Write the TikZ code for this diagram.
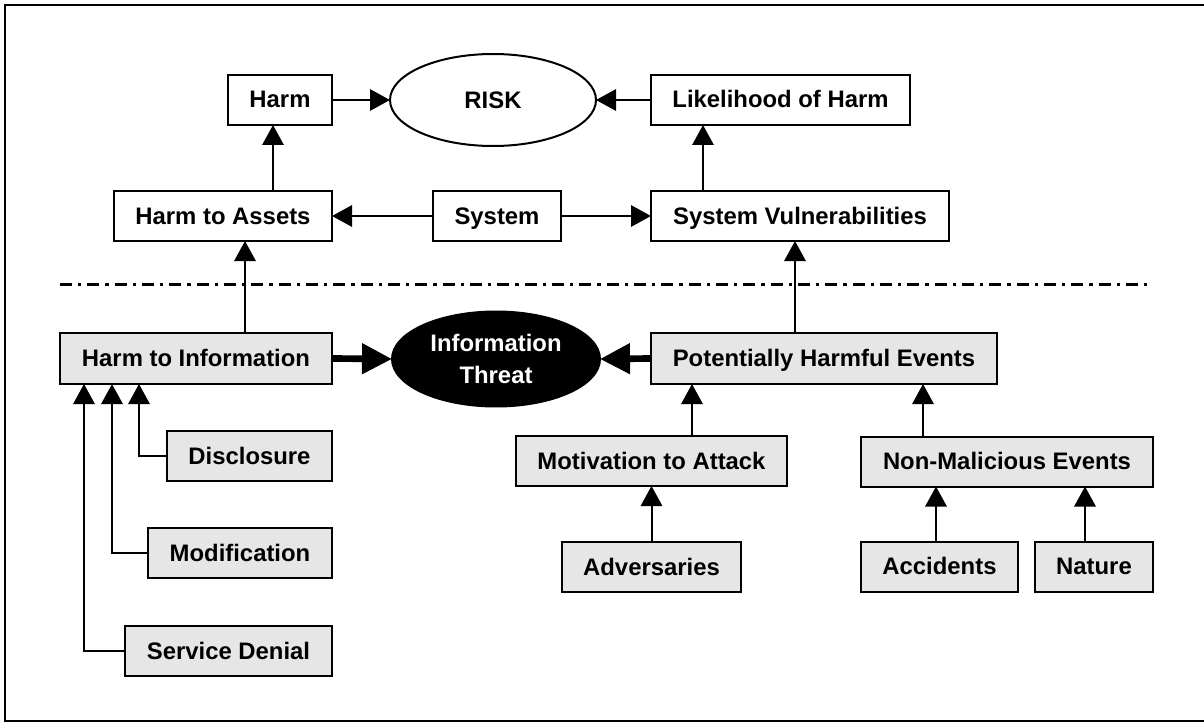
\documentclass[tikz,border=0pt]{standalone}
\usepackage{fontspec}
\setmainfont{Liberation Sans}
\usetikzlibrary{arrows.meta,calc,shapes.geometric}
\definecolor{boxgray}{HTML}{E6E6E6}
\tikzset{
  box/.style={
    draw=black,
    line width=1.5pt,
    fill=white,
    text=black,
    minimum height=37.5pt,
    text height=12.3pt,
    text depth=0.3pt,
    inner sep=0pt,
    outer sep=0pt,
    align=center,
    font=\bfseries\fontsize{17.9}{24}\selectfont
  },
  graybox/.style={
    box,
    fill=boxgray
  },
  oval/.style={
    ellipse,
    draw=black,
    line width=1.5pt,
    inner sep=0pt,
    outer sep=0pt,
    align=center,
    font=\bfseries\fontsize{17.9}{24}\selectfont
  },
  link/.style={
    line width=1.5pt,
    -{Triangle[length=15pt,width=16pt]}
  },
  biglink/.style={
    line width=5pt,
    -{Triangle[length=22.5pt,width=22pt]}
  },
  divider/.style={
    line width=2.25pt,
    dash pattern=on 9pt off 4.5pt on 2.5pt off 4.5pt
  }
}
\newcommand{\harmtype}[5]{%
  \node[graybox, minimum width=#3] (#1) at (#2) {#5};
  \coordinate (#1x) at (#4,0);
  \draw[link] (#1.west) -| (#1x |- hinfo.south);
}

\begin{document}
\begin{tikzpicture}[x=0.75pt,y=-0.75pt]
  \useasboundingbox (0,0) rectangle (1204,724);
  \clip (0,0) rectangle (1204,724);
  \draw[line width=1.5pt] (5,5) rectangle (1220,721);

  % --- Risk level ---
  \node[box, minimum width=78pt] (harm) at (280,100) {Harm};
  \node[oval, minimum width=154.5pt, minimum height=69pt] (risk) at (493,100) {RISK};
  \node[box, minimum width=194.25pt] (likely) at (780.5,100) {Likelihood of Harm};
  \node[box, minimum width=163.5pt] (hassets) at (223,216) {Harm to Assets};
  \node[box, minimum width=96pt] (system) at (497,216) {System};
  \node[box, minimum width=223.5pt] (sysvuln) at (800,216) {System Vulnerabilities};

  \coordinate (hx) at (273,0);
  \coordinate (lx) at (703,0);
  \draw[link] (harm.east) -- (risk.west);
  \draw[link] (likely.west) -- (risk.east);
  \draw[link] (hassets.north -| hx) -- (harm.south -| hx);
  \draw[link] (sysvuln.north -| lx) -- (likely.south -| lx);
  \draw[link] (system.west) -- (hassets.east);
  \draw[link] (system.east) -- (sysvuln.west);

  % --- Divider ---
  \draw[divider] (60,284) -- (1153,284);

  % --- Threat level ---
  \node[graybox, minimum width=204pt, minimum height=38.25pt] (hinfo) at (196,358.5) {Harm to Information};
  \node[oval, fill=black, text=white, minimum width=156pt, minimum height=71.25pt] (threat) at (496,359) {Information\\Threat};
  \node[graybox, minimum width=259.5pt, minimum height=38.25pt] (phe) at (824,358.5) {Potentially Harmful Events};

  \coordinate (ix) at (245,0);
  \coordinate (px) at (795,0);
  \draw[link] (hinfo.north -| ix) -- (hassets.south -| ix);
  \draw[link] (phe.north -| px) -- (sysvuln.south -| px);
  \draw[biglink] (hinfo.east) -- (threat.west);
  \draw[biglink] (phe.west) -- (threat.east);

  % --- Kinds of harm ---
  \harmtype{disclosure}{249.5,456}{123.75pt}{139}{Disclosure}
  \harmtype{modif}{240,553}{138pt}{112}{Modification}
  \harmtype{sdenial}{228.5,651}{155.25pt}{84}{Service Denial}

  % --- Sources of events ---
  \node[graybox, minimum width=203.25pt] (motiv) at (651.5,461) {Motivation to Attack};
  \node[graybox, minimum width=134.25pt] (advers) at (651.5,567) {Adversaries};
  \node[graybox, minimum width=219pt] (nonmal) at (1007,461.5) {Non-Malicious Events};
  \node[graybox, minimum width=117.75pt] (accid) at (939.5,566.5) {Accidents};
  \node[graybox, minimum width=88.5pt] (nature) at (1094,566.5) {Nature};

  \coordinate (mx) at (692,0);
  \coordinate (nx) at (923,0);
  \coordinate (ax) at (936,0);
  \coordinate (tx) at (1085,0);
  \draw[link] (motiv.north -| mx) -- (phe.south -| mx);
  \draw[link] (nonmal.north -| nx) -- (phe.south -| nx);
  \draw[link] (advers.north) -- (motiv.south);
  \draw[link] (accid.north -| ax) -- (nonmal.south -| ax);
  \draw[link] (nature.north -| tx) -- (nonmal.south -| tx);

\end{tikzpicture}
\end{document}
